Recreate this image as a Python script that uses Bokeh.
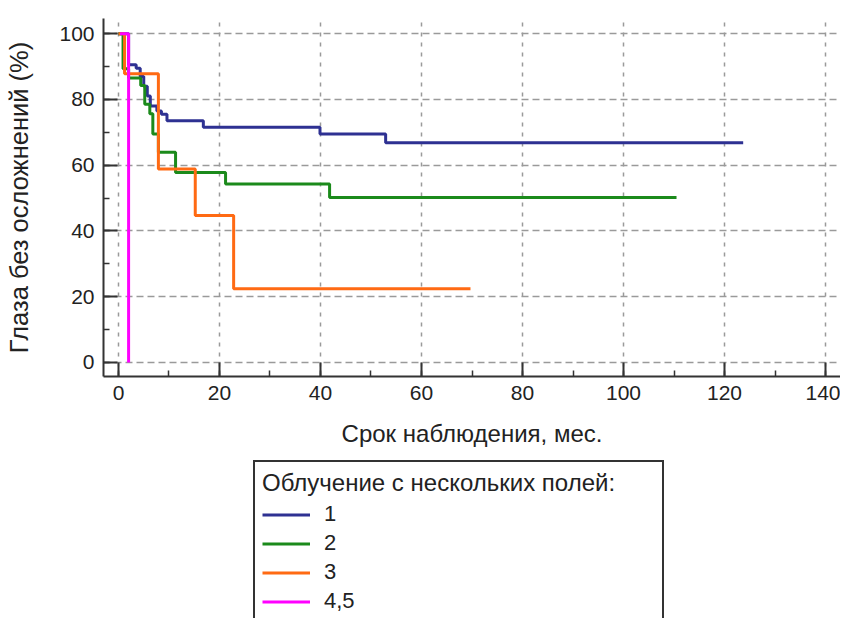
from bokeh.plotting import figure
from bokeh.layouts import column
from bokeh.models import SingleIntervalTicker, Range1d, Legend, LegendItem
from bokeh.embed import file_html
from bokeh.resources import INLINE

# Kaplan-Meier style step data (time in months, % eyes without complications)
t_1 = [0, 2.0, 3.5, 4.3, 5.0, 5.7, 6.3, 7.6, 8.5, 9.6, 16.8, 39.9, 52.9, 123.7]
s_1 = [100, 90.5, 89.5, 87.0, 84.0, 81.0, 78.0, 76.5, 75.5, 73.5, 71.5, 69.5, 66.8, 66.8]

t_2 = [0, 0.9, 2.0, 4.4, 5.2, 6.2, 6.8, 7.9, 11.3, 21.2, 41.8, 110.5]
s_2 = [100, 89.3, 86.5, 84.2, 78.5, 75.6, 69.5, 63.9, 57.8, 54.3, 50.2, 50.2]

t_3 = [0, 1.2, 7.9, 15.2, 22.8, 69.7]
s_3 = [100, 87.8, 58.8, 44.7, 22.4, 22.4]

t_45 = [0.3, 2.0]
s_45 = [100, 0]

series_labels = ["1", "2", "3", "4,5"]
legend_title = "Облучение с нескольких полей:"
x_title = "Срок наблюдения, мес."
y_title = "Глаза без осложнений (%)"

FONT = "Liberation Sans"
TXT = "#222222"
colors = ["#2e3192", "#1b8a1b", "#ff6a13", "#ff00ff"]

p = figure(width=840, height=456, output_backend="svg", toolbar_location=None,
           x_range=Range1d(-2.97, 142.97), y_range=Range1d(-4.26, 104.6),
           min_border_left=103, min_border_right=0, min_border_top=18,
           min_border_bottom=80)
p.outline_line_color = None
p.background_fill_color = "white"
p.border_fill_color = "white"

xt = SingleIntervalTicker(interval=20, num_minor_ticks=2)
yt = SingleIntervalTicker(interval=20, num_minor_ticks=2)
p.xaxis.ticker = xt
p.yaxis.ticker = yt
p.xgrid.ticker = xt
p.ygrid.ticker = yt

for ax in (p.xaxis, p.yaxis):
    ax.axis_line_color = "#333333"
    ax.axis_line_width = 2
    ax.major_tick_line_color = "#333333"
    ax.major_tick_line_width = 2
    ax.minor_tick_line_color = "#333333"
    ax.minor_tick_line_width = 1.5
    ax.major_tick_in = 14
    ax.major_tick_out = 0
    ax.minor_tick_in = 6
    ax.minor_tick_out = 0
    ax.major_label_text_font = FONT
    ax.major_label_text_font_size = "21px"
    ax.major_label_text_color = TXT
    ax.axis_label_text_font = FONT
    ax.axis_label_text_font_style = "normal"
    ax.axis_label_text_color = TXT
    ax.major_label_standoff = 9

p.xaxis.axis_label = x_title
p.yaxis.axis_label = y_title
p.xaxis.axis_label_text_font_size = "24px"
p.yaxis.axis_label_text_font_size = "25.5px"
p.xaxis.axis_label_standoff = 17
p.yaxis.axis_label_standoff = 23

p.xgrid.grid_line_color = "#9a9a9a"
p.xgrid.grid_line_width = 1.5
p.xgrid.grid_line_dash = "4 6"
p.ygrid.grid_line_color = "#9a9a9a"
p.ygrid.grid_line_width = 1.5
p.ygrid.grid_line_dash = "7 4"

data = [(t_1, s_1), (t_2, s_2), (t_3, s_3), (t_45, s_45)]
for (tt, ss), c in zip(data, colors):
    p.step(tt, ss, mode="after", line_color=c, line_width=3)

# legend panel below the chart (its renderers lie outside its empty view)
pl = figure(width=840, height=162, output_backend="svg", toolbar_location=None,
            x_axis_type=None, y_axis_type=None,
            x_range=Range1d(-1000, -999), y_range=Range1d(-1000, -999),
            min_border_left=0, min_border_right=0, min_border_top=0,
            min_border_bottom=0)
pl.outline_line_color = None
pl.xgrid.visible = False
pl.ygrid.visible = False
pl.border_fill_color = "white"
pl.background_fill_color = "white"

items = []
for (tt, ss), c, lab in zip(data, colors, series_labels):
    r = pl.step(tt, ss, mode="after", line_color=c, line_width=3)
    items.append(LegendItem(label=lab, renderers=[r]))

lg = Legend(items=items, title=legend_title)
lg.title_text_font = FONT
lg.title_text_font_size = "24px"
lg.title_text_font_style = "normal"
lg.title_text_color = TXT
lg.title_standoff = 4
lg.label_text_font = FONT
lg.label_text_font_size = "22px"
lg.label_text_color = TXT
lg.glyph_width = 48
lg.glyph_height = 21
lg.label_height = 21
lg.label_standoff = 14
lg.label_width = 331
lg.spacing = 3
lg.padding = 7
lg.margin = 0
lg.border_line_color = "#333333"
lg.border_line_alpha = 1.0
lg.border_line_width = 2.5
lg.background_fill_color = "white"
lg.background_fill_alpha = 1
lg.location = (150, -5)
pl.add_layout(lg, "center")

layout = column(p, pl, spacing=0)
open("out.html", "w").write(file_html(layout, INLINE))
